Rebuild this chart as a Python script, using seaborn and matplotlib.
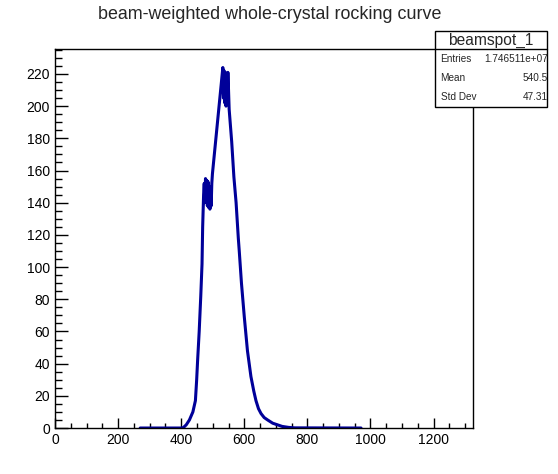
import matplotlib
matplotlib.use("Agg")
import matplotlib.pyplot as plt
import seaborn as sns
from matplotlib.ticker import MultipleLocator

# values
angle = [270, 400, 407, 416, 426, 437, 445, 449, 452, 457, 462, 466, 468, 471, 473,
         475, 477, 479, 481, 483, 485, 487, 489, 491, 493, 495, 497, 499,
         505, 515, 525, 530,
         532, 534, 536, 538, 540, 542, 544, 546, 548, 550, 552,
         560, 567, 574, 581, 584, 591, 600, 610, 621, 630, 637, 645, 653, 663,
         674, 690, 705, 720, 740, 760, 970]
counts = [0, 0, 0.3, 2, 5, 10, 17, 30, 42, 60, 82, 102, 125, 145, 152,
          140, 155, 142, 154, 138, 153, 137, 150, 136, 145, 138, 152, 158,
          170, 190, 210, 220,
          224, 205, 222, 202, 221, 200, 220, 203, 221, 210, 198,
          178, 156, 140, 118, 110, 90, 69, 48, 32, 23, 17, 12, 9, 6.5,
          5, 3, 2, 1, 0.4, 0.1, 0]

title = "beam-weighted whole-crystal rocking curve"
stats_name = "beamspot_1"
stats_rows = [("Entries", "1.746511e+07"), ("Mean", "540.5"), ("Std Dev", "47.31")]

sns.set_style("ticks")
plt.rcParams['font.family'] = ['Liberation Sans', 'DejaVu Sans']

fig = plt.figure(figsize=(5.58, 4.74), dpi=100)
ax = fig.add_axes([0.0986, 0.097, 0.7491, 0.7996])

sns.lineplot(x=angle, y=counts, ax=ax, color="#000099", linewidth=2.2,
             estimator=None, sort=False)

ax.set_xlim(0, 1325)
ax.set_ylim(0, 235.5)
ax.xaxis.set_major_locator(MultipleLocator(200))
ax.xaxis.set_minor_locator(MultipleLocator(50))
ax.yaxis.set_major_locator(MultipleLocator(20))
ax.yaxis.set_minor_locator(MultipleLocator(5))
ax.tick_params(which='both', direction='in', width=1, colors='black')
ax.tick_params(axis='x', which='major', length=7.2, labelsize=10, pad=3.6)
ax.tick_params(axis='x', which='minor', length=3.6)
ax.tick_params(axis='y', which='major', length=9.4, labelsize=10, pad=3.6)
ax.tick_params(axis='y', which='minor', length=5)
for s in ax.spines.values():
    s.set_linewidth(1)
    s.set_color('black')
ax.set_xlabel("")
ax.set_ylabel("")

fig.text(0.483, 0.970, title, ha='center', va='center', fontsize=12.9)

# stats box
x0, x1 = 0.7796, 0.9803
y_top, y_mid, y_bot = 0.9346, 0.8966, 0.7743
box = plt.Rectangle((x0, y_bot), x1 - x0, y_top - y_bot, transform=fig.transFigure,
                    facecolor='white', edgecolor='black', linewidth=1, zorder=5)
fig.add_artist(box)
fig.add_artist(plt.Line2D([x0, x1], [y_mid, y_mid], transform=fig.transFigure,
                          color='black', linewidth=1, zorder=6))
fig.text((x0 + x1) / 2, (y_top + y_mid) / 2, stats_name, ha='center', va='center',
         fontsize=11.2, zorder=7)
row_h = (y_mid - y_bot) / len(stats_rows)
for i, (k, v) in enumerate(stats_rows):
    yy = y_mid - row_h * (i + 0.5)
    fig.text(x0 + 0.010, yy, k, ha='left', va='center', fontsize=7.2, zorder=7)
    fig.text(x1 + 0.001, yy, v, ha='right', va='center', fontsize=7.2, zorder=7,
             clip_on=False)

fig.savefig("out.png", dpi=100)
